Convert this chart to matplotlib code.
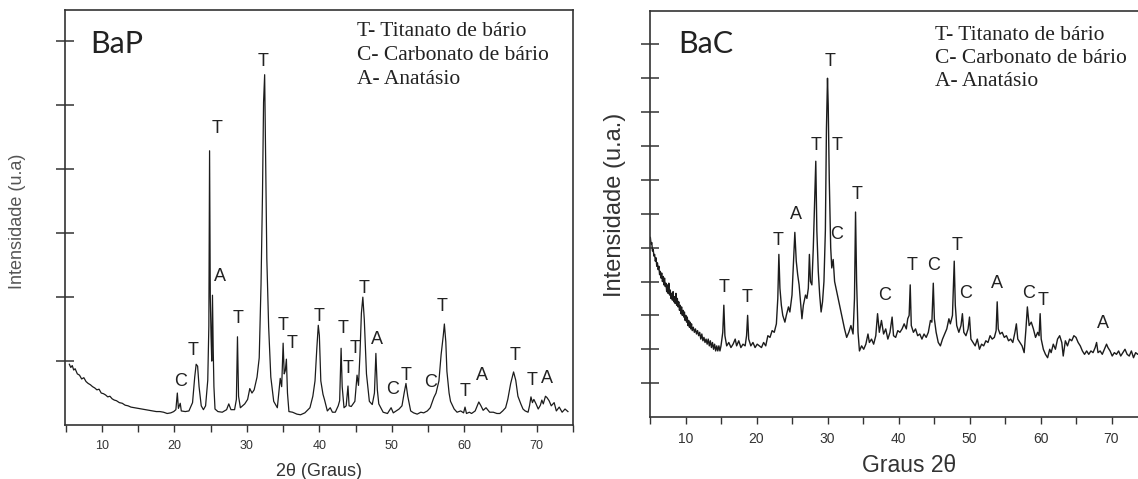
import matplotlib
matplotlib.use('Agg')
import matplotlib.pyplot as plt
from matplotlib.ticker import MultipleLocator

# BaP pattern (2theta, intensity in tick units)
bap_x = [5.5, 5.7, 5.9, 6.1, 6.3, 6.6, 6.9, 7.2, 7.5, 7.8, 8.1, 8.4, 8.7, 9.0, 9.3, 9.6, 9.9,
         10.2, 10.5, 10.8, 11.1, 11.4, 11.7, 12.0, 12.4, 12.8, 13.2, 13.6, 14.0, 14.5, 15.0,
         15.5, 16.0, 16.5, 17.0, 17.5, 18.0, 18.5, 19.0, 19.5, 19.9, 20.2, 20.4, 20.55, 20.8,
         20.95, 21.5, 22.0, 22.5, 22.8, 23.0, 23.2, 23.4, 23.7, 24.0, 24.3, 24.6, 24.75, 24.85,
         24.95, 25.05, 25.15, 25.25, 25.35, 25.45, 25.6, 26.0, 26.6, 27.2, 27.5, 27.8, 28.3,
         28.55, 28.7, 28.85, 29.1, 29.7, 30.1, 30.4, 30.7, 31.0, 31.4, 31.7, 31.95, 32.15, 32.3,
         32.45, 32.6, 32.75, 33.0, 33.3, 33.7, 34.2, 34.6, 34.8, 35.0, 35.15, 35.3, 35.45, 35.6,
         35.8, 36.3, 36.9, 37.4, 38.0, 38.7, 39.1, 39.4, 39.65, 39.85, 40.0, 40.2, 40.5, 40.7,
         41.1, 41.5, 41.8, 42.2, 42.6, 42.8, 43.0, 43.15, 43.4, 43.7, 43.95, 44.1, 44.4, 44.9,
         45.2, 45.4, 45.6, 45.8, 46.0, 46.2, 46.5, 46.9, 47.3, 47.6, 47.8, 48.0, 48.2, 48.8,
         49.4, 49.9, 50.2, 50.6, 51.0, 51.4, 51.7, 51.95, 52.2, 52.6, 53.0, 53.5, 54.0, 54.4,
         54.9, 55.3, 55.8, 56.1, 56.5, 56.8, 57.1, 57.25, 57.45, 57.6, 57.9, 58.1, 58.6, 59.0,
         59.5, 59.9, 60.1, 60.3, 60.7, 61.0, 61.5, 62.0, 62.3, 62.6, 63.0, 63.5, 64.0, 64.5,
         64.9, 65.3, 65.7, 66.0, 66.4, 66.8, 67.1, 67.4, 67.8, 68.1, 68.4, 68.8, 69.0, 69.2,
         69.4, 69.6, 69.9, 70.2, 70.5, 70.7, 70.9, 71.2, 71.4, 71.7, 72.0, 72.4, 72.7, 73.1,
         73.5, 73.9, 74.3]
bap_y = [0.95, 0.90, 0.93, 0.86, 0.88, 0.80, 0.78, 0.72, 0.74, 0.68, 0.65, 0.63, 0.60, 0.58, 0.55, 0.56, 0.50,
         0.49, 0.47, 0.44, 0.45, 0.41, 0.39, 0.38, 0.35, 0.34, 0.31, 0.30, 0.28, 0.27, 0.26,
         0.25, 0.24, 0.23, 0.22, 0.21, 0.21, 0.20, 0.18, 0.19, 0.21, 0.24, 0.50, 0.26, 0.34,
         0.22, 0.21, 0.22, 0.35, 0.75, 0.95, 0.92, 0.60, 0.30, 0.24, 0.30, 0.70, 1.55, 4.29,
         2.0, 1.40, 1.00, 2.03, 1.20, 0.60, 0.25, 0.21, 0.20, 0.24, 0.33, 0.24, 0.24,
         0.40, 1.38, 0.45, 0.27, 0.33, 0.40, 0.57, 0.50, 0.55, 0.75, 1.05, 2.2, 3.6, 5.05,
         5.48, 4.0, 2.6, 1.54, 0.75, 0.37, 0.27, 0.73, 0.60, 1.28, 0.80, 0.85, 1.03, 0.50,
         0.21, 0.20, 0.17, 0.16, 0.19, 0.27, 0.45, 0.69, 1.20, 1.56, 1.40, 0.69, 0.48, 0.40,
         0.22, 0.27, 0.20, 0.20, 0.30, 0.38, 1.20, 0.60, 0.27, 0.30, 0.61, 0.30, 0.29, 0.37,
         0.78, 0.62, 1.10, 1.75, 2.00, 1.65, 0.80, 0.37, 0.32, 0.50, 1.12, 0.55, 0.33, 0.20,
         0.18, 0.27, 0.19, 0.22, 0.25, 0.30, 0.50, 0.65, 0.45, 0.22, 0.19, 0.17, 0.20, 0.19,
         0.22, 0.27, 0.43, 0.50, 0.69, 1.10, 1.40, 1.58, 1.30, 0.84, 0.50, 0.37, 0.25, 0.20,
         0.22, 0.19, 0.28, 0.18, 0.20, 0.18, 0.22, 0.36, 0.30, 0.23, 0.27, 0.20, 0.20, 0.18,
         0.18, 0.22, 0.27, 0.40, 0.65, 0.83, 0.70, 0.45, 0.33, 0.25, 0.22, 0.20, 0.30, 0.44,
         0.35, 0.40, 0.33, 0.25, 0.31, 0.39, 0.33, 0.45, 0.43, 0.38, 0.30, 0.35, 0.22, 0.28,
         0.20, 0.25, 0.21]

# BaC pattern, noisy low angle part first
bac_x_low = [5.05, 5.15, 5.25, 5.35, 5.45, 5.55, 5.65, 5.75, 5.85, 5.95,
             6.05, 6.15, 6.25, 6.35, 6.45, 6.55, 6.65, 6.75, 6.85, 6.95,
             7.05, 7.15, 7.25, 7.35, 7.45, 7.55, 7.65, 7.75, 7.85, 7.95,
             8.05, 8.15, 8.25, 8.35, 8.45, 8.55, 8.65, 8.75, 8.85, 8.95,
             9.05, 9.15, 9.25, 9.35, 9.45, 9.55, 9.65, 9.75, 9.85, 9.95,
             10.05, 10.15, 10.25, 10.35, 10.45, 10.55, 10.65, 10.75, 10.85, 10.95,
             11.1, 11.25, 11.4, 11.55, 11.7, 11.85, 12.0, 12.15, 12.3, 12.45,
             12.6, 12.75, 12.9, 13.05, 13.2, 13.35, 13.5, 13.65, 13.8, 13.95,
             14.1, 14.25, 14.4, 14.55, 14.7, 14.85, 15.0]
bac_y_low = [5.3, 5.1, 5.15, 4.9, 4.95, 4.75, 4.8, 4.6, 4.7, 4.45,
             4.55, 4.35, 4.45, 4.2, 4.3, 4.1, 4.25, 4.0, 4.15, 3.9,
             4.1, 3.85, 3.95, 3.7, 3.9, 3.65, 3.95, 3.6, 3.75, 3.5,
             3.65, 3.45, 3.7, 3.4, 3.55, 3.35, 3.65, 3.3, 3.5, 3.25,
             3.4, 3.15, 3.3, 3.05, 3.25, 3.0, 3.15, 2.95, 3.1, 2.85,
             3.0, 2.8, 2.95, 2.7, 2.85, 2.65, 2.8, 2.6, 2.75, 2.55,
             2.65, 2.5, 2.6, 2.45, 2.55, 2.4, 2.5, 2.3, 2.45, 2.25,
             2.35, 2.2, 2.3, 2.15, 2.3, 2.1, 2.25, 2.05, 2.2, 2.0,
             2.15, 1.95, 2.1, 1.95, 2.1, 1.95, 2.1]
bac_x_high = [15.25,
         15.4, 15.55, 15.8, 16.1, 16.4, 16.7, 17.0, 17.2, 17.5, 17.8, 18.1, 18.4, 18.6, 18.75,
         18.9, 19.2, 19.5, 19.8, 20.1, 20.4, 20.7, 21.0, 21.3, 21.6, 21.9, 22.2, 22.5, 22.8,
         23.0, 23.15, 23.3, 23.5, 23.7, 24.0, 24.2, 24.5, 24.7, 25.0, 25.2, 25.4, 25.6, 25.8,
         26.0, 26.2, 26.4, 26.6, 26.9, 27.1, 27.3, 27.45, 27.6, 27.8, 28.0, 28.2, 28.35, 28.5,
         28.7, 28.9, 29.1, 29.3, 29.5, 29.7, 29.85, 30.0, 30.1, 30.25, 30.45, 30.6, 30.8, 31.0,
         31.2, 31.5, 31.8, 32.1, 32.4, 32.7, 33.0, 33.3, 33.6, 33.8, 33.95, 34.1, 34.3, 34.5,
         34.8, 35.1, 35.4, 35.7, 35.9, 36.2, 36.5, 36.8, 37.05, 37.3, 37.6, 37.9, 38.2, 38.5,
         38.8, 39.1, 39.3, 39.6, 39.9, 40.2, 40.5, 40.8, 41.1, 41.3, 41.5, 41.65, 41.8, 42.1,
         42.4, 42.7, 43.0, 43.3, 43.6, 43.9, 44.2, 44.5, 44.7, 44.9, 45.05, 45.3, 45.6, 45.9,
         46.2, 46.5, 46.8, 47.1, 47.3, 47.6, 47.85, 48.0, 48.2, 48.5, 48.8, 49.0, 49.2, 49.5,
         49.8, 50.0, 50.2, 50.5, 50.8, 51.1, 51.4, 51.7, 52.0, 52.3, 52.6, 52.9, 53.2, 53.5,
         53.75, 53.9, 54.05, 54.3, 54.6, 54.9, 55.2, 55.5, 55.8, 56.1, 56.4, 56.6, 56.8, 57.1,
         57.4, 57.7, 57.95, 58.15, 58.4, 58.7, 59.0, 59.3, 59.6, 59.8, 59.95, 60.1, 60.4, 60.7,
         61.0, 61.3, 61.5, 61.8, 62.1, 62.4, 62.7, 63.0, 63.2, 63.5, 63.8, 64.1, 64.4, 64.7,
         65.0, 65.3, 65.6, 65.9, 66.2, 66.5, 66.8, 67.1, 67.4, 67.7, 67.9, 68.1, 68.4, 68.7,
         69.0, 69.3, 69.5, 69.8, 70.1, 70.4, 70.7, 71.0, 71.3, 71.6, 71.9, 72.2, 72.5, 72.8,
         73.1, 73.4, 73.7, 74.0, 74.3, 74.7]
bac_y_high = [2.5,
         3.3, 2.4, 2.1, 2.2, 2.05, 2.15, 2.3, 2.1, 2.25, 2.05, 2.15, 2.1, 2.4, 3.0,
         2.3, 2.1, 2.2, 2.05, 2.15, 2.1, 2.05, 2.2, 2.1, 2.4, 2.35, 2.55, 2.5, 2.75,
         3.5, 4.8, 3.8, 3.3, 3.0, 2.8, 3.0, 3.25, 3.1, 3.6, 4.5, 5.45, 4.6, 4.2,
         3.9, 3.4, 2.9, 3.3, 3.6, 3.5, 3.8, 4.8, 4.0, 3.9, 5.0, 6.5, 7.55, 5.5,
         4.3, 3.6, 3.1, 3.4, 4.0, 5.5, 8.5, 10.0, 9.2, 7.0, 5.0, 4.4, 4.65, 4.0,
         3.8, 3.5, 3.2, 2.9, 2.6, 2.35, 2.5, 2.7, 2.45, 3.5, 6.05, 4.0, 2.5, 1.95,
         2.1, 2.0, 2.15, 2.45, 2.2, 2.3, 2.15, 2.4, 3.05, 2.5, 2.85, 2.45, 2.6, 2.3,
         2.5, 2.95, 2.4, 2.35, 2.55, 2.5, 2.6, 2.75, 2.6, 2.9, 3.0, 3.9, 2.7, 2.5,
         2.6, 2.4, 2.45, 2.3, 2.45, 2.35, 2.5, 2.85, 2.8, 3.95, 2.9, 2.5, 2.2, 2.1,
         2.3, 2.45, 2.6, 2.9, 2.75, 3.0, 4.6, 3.3, 2.7, 2.5, 2.7, 3.05, 2.5, 2.4,
         2.6, 2.95, 2.3, 2.2, 2.1, 2.3, 2.0, 2.15, 2.1, 2.25, 2.2, 2.4, 2.3, 2.35,
         2.55, 3.4, 2.6, 2.45, 2.5, 2.35, 2.4, 2.25, 2.3, 2.2, 2.5, 2.75, 2.3, 2.2,
         2.1, 1.9, 2.6, 3.25, 2.7, 2.8, 2.6, 2.35, 2.5, 2.4, 3.05, 2.3, 2.0, 1.85,
         1.75, 2.0, 1.9, 2.15, 2.0, 2.3, 2.4, 2.2, 1.8, 2.25, 2.1, 2.3, 2.25, 2.4,
         2.35, 2.2, 2.1, 1.95, 1.85, 1.95, 1.85, 1.95, 1.9, 2.05, 2.2, 1.9, 1.95, 1.85,
         2.0, 2.15, 2.05, 1.95, 1.8, 1.9, 1.85, 1.95, 1.8, 1.9, 2.0, 1.85, 1.8, 1.95,
         1.75, 1.9, 1.85, 1.9, 1.8, 1.85]

# phase labels over the peaks
bap_lab_x = [20.8, 22.6, 25.9, 26.3, 28.8, 32.3, 35.0, 36.3, 39.9, 43.3, 44.0, 44.9,
             46.2, 47.9, 50.1, 52.0, 55.3, 56.9, 60.1, 62.5, 67.0, 69.3, 71.4]
bap_lab_y = [0.68, 1.17, 4.64, 2.32, 1.67, 5.68, 1.56, 1.28, 1.69, 1.51, 0.89, 1.2,
             2.14, 1.33, 0.55, 0.78, 0.66, 1.85, 0.52, 0.78, 1.09, 0.70, 0.73]
bap_lab_t = ['C', 'T', 'T', 'A', 'T', 'T', 'T', 'T', 'T', 'T', 'T', 'T',
             'T', 'A', 'C', 'T', 'C', 'T', 'T', 'A', 'T', 'T', 'A']

bac_lab_x = [15.4, 18.7, 23.0, 25.5, 28.4, 30.4, 31.3, 31.3, 34.1, 38.1, 41.9, 45.0,
             48.2, 49.5, 53.8, 58.3, 60.4, 68.8]
bac_lab_y = [3.83, 3.54, 5.2, 5.99, 8.0, 10.5, 8.0, 5.4, 6.58, 3.59, 4.47, 4.47,
             5.07, 3.64, 3.93, 3.66, 3.44, 2.76]
bac_lab_t = ['T', 'T', 'T', 'A', 'T', 'T', 'T', 'C', 'T', 'C', 'T', 'C',
             'T', 'C', 'A', 'C', 'T', 'A']

legend_lines = ['T- Titanato de bário', 'C- Carbonato de bário', 'A- Anatásio']

W, H = 1138.0, 479.0
def fx(x):
    return x / W
def fy(y):
    return 1 - y / H

plt.rcParams['font.family'] = ['Liberation Sans', 'DejaVu Sans']

fig = plt.figure(figsize=(11.38, 4.79), dpi=100)
ax1 = fig.add_axes([fx(65), fy(425), 508 / W, 415.5 / H])
ax2 = fig.add_axes([fx(650), fy(417), 497 / W, 406.5 / H])

lc = '#1c1c1c'
ax1.plot(bap_x, bap_y, color=lc, lw=0.9)
ax2.plot(bac_x_low + bac_x_high, bac_y_low + bac_y_high, color=lc, lw=1.0)

ax1.set_xlim(4.9, 75)
ax1.set_ylim(0, 6.5)
ax2.set_xlim(5, 75)
ax2.set_ylim(0, 12)

for ax in [ax1, ax2]:
    ax.xaxis.set_major_locator(MultipleLocator(10))
    ax.xaxis.set_minor_locator(MultipleLocator(5))
    ax.tick_params(axis='y', direction='inout', length=13, width=1.1, color='#333333',
                   labelleft=False)
    ax.tick_params(axis='x', which='both', direction='out', length=5, width=1.0,
                   color='#333333', pad=6, labelcolor='#333333')
    for s in ax.spines.values():
        s.set_color('#333333')
        s.set_linewidth(1.2)

ax1.set_yticks([1, 2, 3, 4, 5, 6])
ax2.set_yticks(range(1, 12))
ax1.tick_params(axis='x', labelsize=9)
ax2.tick_params(axis='x', labelsize=10)

for x, y, t in zip(bap_lab_x, bap_lab_y, bap_lab_t):
    ax1.text(x, y, t, ha='center', va='center', fontsize=13, color='#222222')
for x, y, t in zip(bac_lab_x, bac_lab_y, bac_lab_t):
    ax2.text(x, y, t, ha='center', va='center', fontsize=13, color='#222222')

# sample names
fig.text(fx(90), fy(44), 'BaP', fontsize=22, family='Lato', va='center', color='#222222')
fig.text(fx(678), fy(44), 'BaC', fontsize=22, family='Lato', va='center', color='#222222')

# phase key in each panel
for i, s in enumerate(legend_lines):
    fig.text(fx(357), fy(32 + 24 * i), s, fontsize=15.5, family='Liberation Serif',
             va='center', color='#222222')
    fig.text(fx(935), fy(35 + 23.5 * i), s, fontsize=15.5, family='Liberation Serif',
             va='center', color='#222222')

# axis titles
fig.text(fx(18), fy(221), 'Intensidade (u.a)', rotation=90, ha='center', va='center',
         fontsize=13, color='#555555')
fig.text(fx(319), fy(471), '2θ (Graus)', ha='center', va='center', fontsize=13,
         color='#333333')
fig.text(fx(615), fy(205), 'Intensidade (u.a.)', rotation=90, ha='center', va='center',
         fontsize=17, color='#333333')
fig.text(fx(909), fy(466), 'Graus 2θ', ha='center', va='center', fontsize=16.5,
         color='#333333')

fig.savefig('out.png', dpi=100)
